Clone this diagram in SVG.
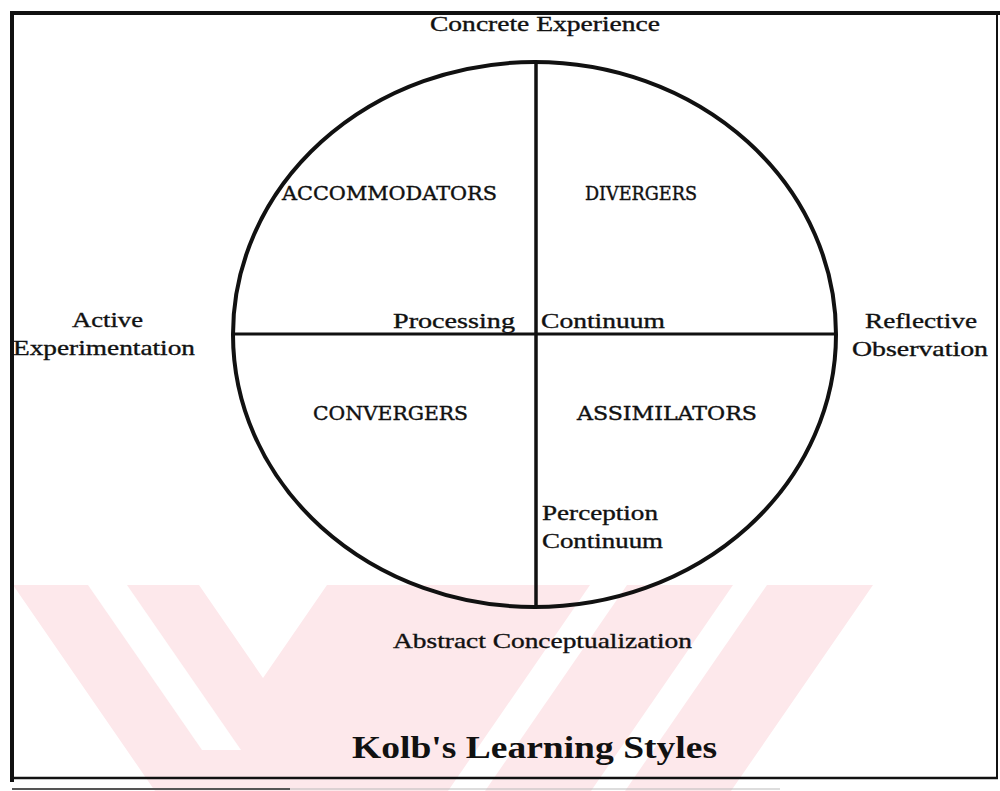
<svg xmlns="http://www.w3.org/2000/svg" width="1000" height="791" viewBox="0 0 1000 791">
  <style>
    .lbl { font-family: "Liberation Serif", "Times New Roman", serif; font-size: 21px; fill: #111; stroke: #111; stroke-width: 0.35px; }
    .cap { font-family: "DejaVu Serif", "Liberation Serif", serif; font-size: 19px; fill: #111; stroke: #111; stroke-width: 0.4px; }
    .title { font-family: "Liberation Serif", "Times New Roman", serif; font-size: 31px; font-weight: bold; fill: #111; }
    .ink { stroke: #111; fill: none; }
    .wm { fill: #fde8eb; }
    .gap { fill: #ffffff; }
  </style>

  <rect width="1000" height="791" fill="#ffffff"/>

  <!-- background watermark chevrons -->
  <g id="watermark">
    <polygon class="wm" points="13,585 199,585 263,678 327,585 873,585 731,791 155,791"/>
    <polygon class="gap" points="88,585 127,585 241,750 202,750"/>
    <polygon class="gap" points="590,585 627,585 485,791 448,791"/>
    <polygon class="gap" points="733,585 767,585 625,791 591,791"/>
  </g>

  <!-- page frame -->
  <g id="frame" class="ink">
    <line x1="12" y1="12" x2="12" y2="782" stroke-width="4"/>
    <line x1="10" y1="13" x2="1000" y2="13" stroke-width="4"/>
    <line x1="997" y1="13" x2="997" y2="778" stroke-width="2"/>
    <line x1="12" y1="778" x2="998" y2="778" stroke-width="2.5"/>
    <line x1="12" y1="789" x2="290" y2="789" stroke="#555" stroke-width="2"/>
    <line x1="290" y1="789" x2="780" y2="789" stroke="#bbb" stroke-width="1"/>
  </g>

  <!-- learning cycle wheel -->
  <g id="wheel" class="ink">
    <ellipse cx="534.5" cy="334.5" rx="301.5" ry="272.5" stroke-width="4"/>
  </g>

  <g id="connectors" class="ink">
    <line id="perception-axis" x1="536" y1="62" x2="536" y2="607" stroke-width="3.5"/>
    <line id="processing-axis" x1="233" y1="334" x2="836" y2="334" stroke-width="3"/>
  </g>

  <!-- pole labels -->
  <g id="concrete-experience">
    <text class="lbl" x="430" y="31" textLength="230" lengthAdjust="spacingAndGlyphs">Concrete Experience</text>
  </g>
  <g id="active-experimentation">
    <text class="lbl" x="72" y="327" textLength="71" lengthAdjust="spacingAndGlyphs">Active</text>
    <text class="lbl" x="13" y="355" textLength="182" lengthAdjust="spacingAndGlyphs">Experimentation</text>
  </g>
  <g id="reflective-observation">
    <text class="lbl" x="865" y="328" textLength="112" lengthAdjust="spacingAndGlyphs">Reflective</text>
    <text class="lbl" x="852" y="356" textLength="136" lengthAdjust="spacingAndGlyphs">Observation</text>
  </g>
  <g id="abstract-conceptualization">
    <text class="lbl" x="393" y="648" textLength="299" lengthAdjust="spacingAndGlyphs">Abstract Conceptualization</text>
  </g>

  <!-- axis labels -->
  <g id="processing-continuum">
    <text class="lbl" x="393" y="328" textLength="122" lengthAdjust="spacingAndGlyphs">Processing</text>
    <text class="lbl" x="541" y="328" textLength="124" lengthAdjust="spacingAndGlyphs">Continuum</text>
  </g>
  <g id="perception-continuum">
    <text class="lbl" x="542" y="520" textLength="116" lengthAdjust="spacingAndGlyphs">Perception</text>
    <text class="lbl" x="542" y="548" textLength="121" lengthAdjust="spacingAndGlyphs">Continuum</text>
  </g>

  <!-- quadrant styles -->
  <g id="accommodators">
    <text class="cap" x="282" y="200" textLength="215" lengthAdjust="spacingAndGlyphs">ACCOMMODATORS</text>
  </g>
  <g id="divergers">
    <text class="cap" x="585" y="200" textLength="112" lengthAdjust="spacingAndGlyphs">DIVERGERS</text>
  </g>
  <g id="convergers">
    <text class="cap" x="313" y="420" textLength="155" lengthAdjust="spacingAndGlyphs">CONVERGERS</text>
  </g>
  <g id="assimilators">
    <text class="cap" x="577" y="420" textLength="180" lengthAdjust="spacingAndGlyphs">ASSIMILATORS</text>
  </g>

  <g id="title">
    <text class="title" x="352" y="758" textLength="365" lengthAdjust="spacingAndGlyphs">Kolb's Learning Styles</text>
  </g>
</svg>
